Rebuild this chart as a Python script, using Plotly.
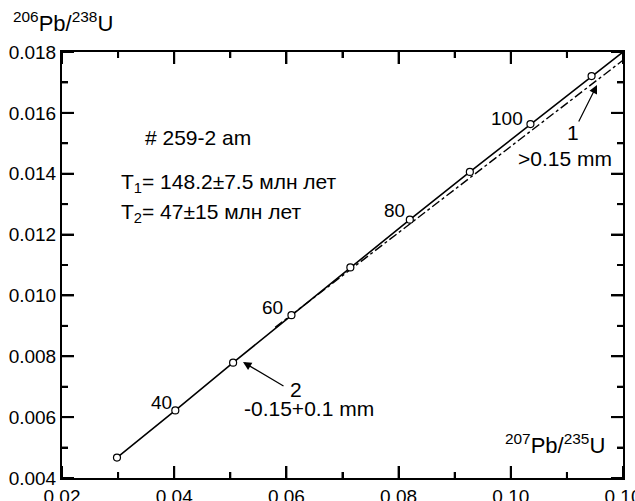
import plotly.graph_objects as go

# Concordia points (ages, Ma)
ages = [30, 40, 50, 60, 70, 80, 90, 100, 110]
pb207_u235 = [0.0298, 0.0402, 0.0505, 0.0609, 0.0714, 0.0820, 0.0927, 0.1035, 0.1144]
pb206_u238 = [0.00467, 0.00622, 0.00779, 0.00935, 0.01092, 0.01249, 0.01406, 0.01563, 0.01721]

# Concordia curve continues to the upper-right corner
curve_x = pb207_u235 + [0.1200]
curve_y = pb206_u238 + [0.01800]

# Discordia (dash-dot) line endpoints
disc_x = [0.0580, 0.1200]
disc_y = [0.00895, 0.01773]

# Tick values / labels
x_ticks = [0.02, 0.04, 0.06, 0.08, 0.10, 0.12]
x_ticktext = ["0.02", "0.04", "0.06", "0.08", "0.10", "0.10"]
x_minor = [0.03, 0.05, 0.07, 0.09, 0.11]
y_ticks = [0.004, 0.006, 0.008, 0.010, 0.012, 0.014, 0.016, 0.018]
y_ticktext = ["0.004", "0.006", "0.008", "0.010", "0.012", "0.014", "0.016", "0.018"]
y_minor = [0.005, 0.007, 0.009, 0.011, 0.013, 0.015, 0.017]

# Labelled ages
label_ages = ["40", "60", "80", "100"]
label_px = [(161, 402), (272, 307), (394, 211), (507, 118)]

FONT = "Liberation Sans, Arial, sans-serif"
W, H = 635, 501
L, R, T, B = 62, 12, 52, 23
X0, X1 = 0.02, 0.12
Y0, Y1 = 0.004, 0.018
PW, PH = W - L - R, H - T - B
MAJ, MIN = 12, 6
DX = (X1 - X0) / PW   # data units per pixel, x
DY = (Y1 - Y0) / PH   # data units per pixel, y


def px2x(px):
    return X0 + (px - L) * DX


def px2y(py):
    return Y0 + (H - B - py) * DY


def px2paperx(px):
    return (px - L) / PW


def px2papery(py):
    return (H - B - py) / PH


fig = go.Figure()

# Inward tick marks on all four sides (line trace on the axes' scales)
tx, ty = [], []
for vals, ln in [(x_ticks, MAJ), (x_minor, MIN)]:
    for v in vals:
        tx += [v, v, None, v, v, None]
        ty += [Y0, Y0 + ln * DY, None, Y1, Y1 - ln * DY, None]
for vals, ln in [(y_ticks, MAJ), (y_minor, MIN)]:
    for v in vals:
        tx += [X0, X0 + ln * DX, None, X1, X1 - ln * DX, None]
        ty += [v, v, None, v, v, None]
fig.add_trace(go.Scatter(x=tx, y=ty, mode="lines", line=dict(color="black", width=2),
                         cliponaxis=False, showlegend=False))

fig.add_trace(go.Scatter(x=curve_x, y=curve_y, mode="lines",
                         line=dict(color="black", width=1.6),
                         hoverinfo="skip", showlegend=False))
fig.add_trace(go.Scatter(x=disc_x, y=disc_y, mode="lines",
                         line=dict(color="black", width=1.4, dash="dashdot"),
                         hoverinfo="skip", showlegend=False))
fig.add_trace(go.Scatter(x=pb207_u235, y=pb206_u238, mode="markers",
                         marker=dict(symbol="circle", size=7, color="white",
                                     line=dict(color="black", width=1.2)),
                         text=[str(a) for a in ages], showlegend=False))


def text_px(txt, cx, cy, size=21, xanchor="center"):
    return dict(x=px2paperx(cx), y=px2papery(cy), xref="paper", yref="paper",
                text=txt, showarrow=False,
                xanchor=xanchor, yanchor="middle",
                font=dict(family=FONT, size=size, color="black"))


ann = []
for t, (cx, cy) in zip(label_ages, label_px):
    ann.append(text_px(t, cx, cy, size=19))

ann += [
    text_px("# 259-2 am", 143, 137, xanchor="left"),
    text_px("T<sub>1</sub>= 148.2±7.5 млн лет", 119, 183, xanchor="left"),
    text_px("T<sub>2</sub>= 47±15 млн лет", 119, 213, xanchor="left"),
    text_px("1", 573, 132),
    text_px(">0.15 mm", 565, 158),
    text_px("2", 296, 389),
    text_px("-0.15+0.1 mm", 309, 408),
    text_px("<sup>207</sup>Pb/<sup>235</sup>U", 555, 444, size=22),
    text_px("<sup>206</sup>Pb/<sup>238</sup>U", 11, 22, size=22, xanchor="left"),
]

# Arrows
for (ax_, ay_, sx, sy) in [(597, 85, 578, 123), (243, 362, 285, 387)]:
    ann.append(dict(x=px2x(ax_), y=px2y(ay_), ax=px2x(sx), ay=px2y(sy),
                    xref="x", yref="y", axref="x", ayref="y", text="",
                    showarrow=True, arrowhead=2, arrowsize=1.4, arrowwidth=1.2,
                    arrowcolor="black"))

tickfont = dict(family=FONT, size=19, color="black")
minor_style = dict(ticks="inside", ticklen=MIN, tickwidth=2, tickcolor="black")

fig.update_layout(
    width=W, height=H,
    margin=dict(l=L, r=R, t=T, b=B, autoexpand=False),
    paper_bgcolor="white", plot_bgcolor="white",
    xaxis=dict(range=[X0, X1], tickmode="array", tickvals=x_ticks, ticktext=x_ticktext,
               ticks="inside", ticklen=MAJ, tickwidth=2, tickcolor="black",
               minor=dict(tickmode="array", tickvals=x_minor, **minor_style),
               showline=True, linecolor="black", linewidth=2, mirror="allticks",
               showgrid=False, zeroline=False, automargin=False,
               ticklabeloverflow="allow", tickfont=tickfont),
    yaxis=dict(range=[Y0, Y1], tickmode="array", tickvals=y_ticks, ticktext=y_ticktext,
               ticks="inside", ticklen=MAJ, tickwidth=2, tickcolor="black",
               minor=dict(tickmode="array", tickvals=y_minor, **minor_style),
               showline=True, linecolor="black", linewidth=2, mirror="allticks",
               showgrid=False, zeroline=False, automargin=False,
               ticklabeloverflow="allow", tickfont=tickfont),
    annotations=ann,
    showlegend=False,
)

fig.write_html("out.html")
